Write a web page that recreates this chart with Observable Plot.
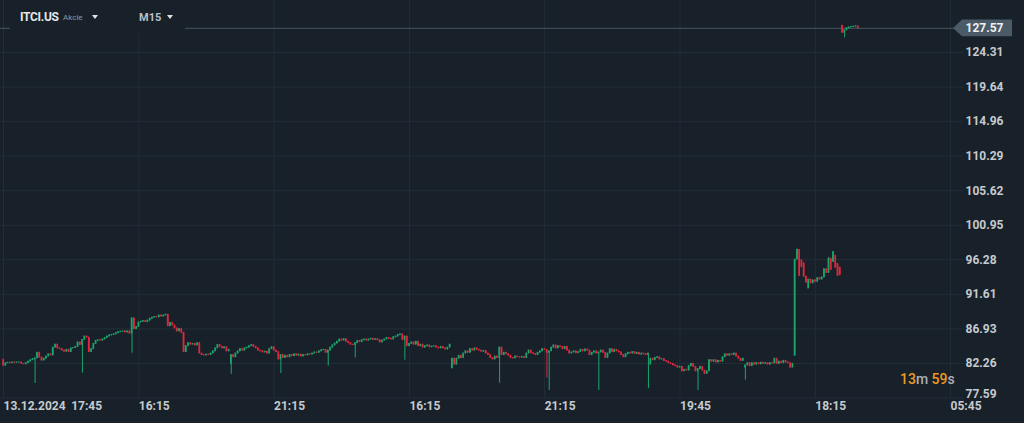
<!DOCTYPE html>
<html><head><meta charset="utf-8">
<script src="https://cdn.jsdelivr.net/npm/d3@7"></script>
<script src="https://cdn.jsdelivr.net/npm/@observablehq/plot@0.6"></script>
<style>
html,body{margin:0;padding:0;background:#18212a;width:1024px;height:423px;overflow:hidden;font-family:Roboto,"Noto Sans",sans-serif}
#wrap{position:relative;width:1024px;height:423px}
#wrap svg{display:block}
#hdr{position:absolute;left:10px;top:0;width:175px;height:33px;background:#18212a}
#hdr span{position:absolute}
.sym{left:10px;top:10px;font-size:12px;font-weight:700;color:#e4e7ea;letter-spacing:-0.3px}
.akc{left:53px;top:13px;font-size:8px;color:#8d979f}
.tf{left:129px;top:11px;font-size:11px;font-weight:700;color:#b9c0c5}
.tri{width:0;height:0;border-left:3.5px solid transparent;border-right:3.5px solid transparent;border-top:4px solid #dfe3e6}
#t1{left:82px;top:15px}
#t2{left:157px;top:15px}
#cd{position:absolute;left:900px;top:371px;font-size:14px;font-weight:500;white-space:nowrap}
#cd .o{color:#ee9a1e}
#cd .g{color:#a9b0b6}
</style>
</head><body>
<div id="wrap">
  <div id="chart"></div>
  <div id="hdr"><span class="sym">ITCI.US</span><span class="akc">Akcie</span><span class="tri" id="t1"></span><span class="tf">M15</span><span class="tri" id="t2"></span></div>
  <div id="cd"><span class="o">13</span><span class="g">m</span> <span class="o">59</span><span class="g">s</span></div>
</div>
<script>
// ---- data (M15 candles, closes) ----
const closes = [
81.95,82.3,82.35,82.3,82.4,82.35,82.4,82.4,82.2,82.15,
82.3,82.5,82.7,82.85,82.95,83.7,83.05,82.65,82.9,83.2,
83.5,83.35,84.4,84.8,84.3,84.2,84.0,83.85,84.1,83.8,
84.3,84.35,84.5,85.1,84.75,85.45,85.9,85.75,83.8,84.2,
84.9,85.3,85.4,85.35,85.5,85.7,85.9,86.05,86.1,86.2,
86.35,86.5,86.55,86.6,86.45,86.6,86.3,88.35,86.9,87.2,
87.8,87.9,88.0,87.85,88.05,88.3,88.45,88.55,88.5,88.75,
88.6,88.75,88.85,87.3,87.75,87.4,87.0,86.6,86.9,86.4,
83.8,84.6,85.0,84.8,84.9,84.7,85.0,83.6,83.4,83.35,
83.45,83.4,83.6,83.9,84.3,84.75,84.5,84.3,84.45,83.9,
84.1,83.4,83.1,83.6,83.9,84.2,84.0,84.3,84.4,84.6,
84.75,84.5,84.3,84.0,83.9,83.75,83.85,83.6,84.2,84.45,
84.0,83.8,82.8,83.4,83.0,83.3,83.1,83.4,83.25,83.5,
83.3,83.45,83.2,83.4,83.35,83.5,83.45,83.6,83.75,83.7,
83.9,84.05,84.1,83.7,84.0,84.4,84.7,84.95,85.2,85.5,
85.35,85.55,85.2,85.0,84.8,84.75,85.0,85.3,85.15,85.4,
85.5,85.35,85.5,85.6,85.45,85.55,85.4,85.1,85.35,85.5,
85.7,85.6,85.5,85.8,85.9,86.1,86.2,85.45,85.9,84.6,
84.9,85.1,84.8,85.2,84.6,84.8,84.4,84.6,84.7,84.45,
84.55,84.6,84.4,84.3,84.5,84.3,84.15,84.4,84.8,82.9,
82.1,82.9,83.3,83.0,83.6,83.9,83.7,84.2,84.0,84.3,
84.1,84.0,83.85,83.95,83.6,83.4,83.0,82.8,83.2,83.0,
84.4,83.4,83.7,83.5,83.3,83.0,82.95,83.2,83.1,83.05,
83.15,83.0,83.6,84.0,83.65,83.55,83.4,83.7,83.9,84.2,
84.1,83.7,83.9,84.4,84.7,84.3,84.6,84.5,84.2,84.5,
84.0,83.6,83.75,83.9,83.65,83.8,84.1,83.9,84.15,84.0,
83.4,83.7,83.9,83.6,83.75,84.0,83.7,83.0,83.6,84.2,
83.8,84.1,83.9,83.75,83.4,83.1,83.5,83.7,83.6,83.8,
83.55,83.7,83.45,83.6,83.5,83.4,83.6,82.9,82.7,83.0,
83.1,82.8,82.85,82.6,82.5,82.3,82.2,82.0,81.9,81.7,
81.8,81.2,81.4,81.3,81.9,82.2,81.8,81.2,81.5,81.8,
81.3,80.85,81.2,82.7,82.5,82.7,82.4,82.6,82.5,83.1,
83.5,83.3,83.5,83.4,83.6,83.2,82.9,82.6,82.9,82.0,
82.3,81.9,82.3,82.1,82.3,82.15,82.35,82.2,82.3,82.1,
82.3,82.25,82.9,82.2,82.5,82.3,82.6,82.4,82.3,81.7,
82.2,96.3,97.6,94.1,95.3,94.0,93.2,93.6,93.1,93.5,
93.3,93.8,93.6,93.9,95.0,94.5,96.4,94.9,97.3,95.2,
94.1,94.2,127.0,127.3,127.6,127.7,127.75,127.8,127.85,127.57
];
// opens that do not equal the previous close: [candle, open]
const gapOpens = [[0,82.76],[101,82.2],[199,81.6],[287,82.1],[329,81.7],[351,83.3],
  [354,96.2],[355,95.8],[357,92.4],[368,96.0],[369,96.8],[370,95.7],[371,95.2],[372,127.9]];
// long lower wicks: [candle, low]
const lowWicks = [[14,79.55],[35,80.95],[57,83.65],[101,80.8],[123,80.9],[144,81.9],[156,83.0],
  [178,82.7],[220,79.6],[241,80.3],[242,78.6],[264,78.6],[286,78.85],[308,78.6],[329,80.0],
  [372,126.9],[373,126.3]];
// upper wicks: [candle, high]
const highWicks = [[352,97.75],[366,96.6],[368,97.4],[372,128.0]];
const yTicks = [77.59,82.26,86.93,91.61,96.28,100.95,105.62,110.29,114.96,119.64,124.31];
const xTickIdx = [0,30,60,120,180,240,300,360,420];
const xTickLabels = ["13.12.2024","17:45","16:15","21:15","16:15","21:15","19:45","18:15","05:45"];
const gridIdx = [0,60,120,180,240,300,360,420];
const lastPrice = 127.57;

const green = "#1ba56c", red = "#e0283d";
const gapMap = new Map(gapOpens), lowMap = new Map(lowWicks), highMap = new Map(highWicks);
const candles = closes.map((c, i) => {
  const o = gapMap.has(i) ? gapMap.get(i) : closes[i - 1];
  const low = Math.min(o, c, lowMap.has(i) ? lowMap.get(i) : Infinity);
  const high = Math.max(o, c, highMap.has(i) ? highMap.get(i) : -Infinity);
  return {i, open: o, close: c, low, high, col: c >= o ? green : red};
});

const priceTag = (index, scales, values, dims) => {
  const y = scales.y(lastPrice);
  const x0 = dims.width - dims.marginRight - 10;
  const p = d3.create("svg:path")
    .attr("d", `M${x0},${y} L${x0 + 9},${y - 8.3} H${x0 + 59} V${y + 8.3} H${x0 + 9} Z`)
    .attr("fill", "#4a5a66");
  return p.node();
};

const chart = Plot.plot({
  width: 1024, height: 423,
  marginLeft: 0, marginRight: 61, marginTop: 0, marginBottom: 25,
  style: {background: "#18212a", color: "#c5cace", fontFamily: "Roboto, sans-serif", fontSize: "12px"},
  x: {type: "linear", domain: [0, 420], range: [3, 950.1], axis: null},
  y: {domain: [77.59, 124.31], range: [397.5, 52], axis: null},
  marks: [
    Plot.ruleY(yTicks, {stroke: "#232d37"}),
    Plot.ruleX(gridIdx, {stroke: "#232d37"}),
    Plot.ruleY([lastPrice], {stroke: "#3d4b56", strokeWidth: 1.2}),
    Plot.ruleX(candles, {x: "i", y1: "low", y2: "high", stroke: "col", strokeWidth: 1}),
    Plot.rect(candles, {x1: d => d.i - 0.34, x2: d => d.i + 0.34, y1: "open", y2: "close", fill: "col", insetTop: -0.5, insetBottom: -0.5}),
    priceTag,
    Plot.text([lastPrice], {y: d => d, text: d => d.toFixed(2), frameAnchor: "right", textAnchor: "start", dx: 2, fill: "#eef0f2", fontWeight: "bold", fontSize: 12}),
    Plot.text(yTicks.filter(d => d !== 77.59), {y: d => d, text: d => d.toFixed(2), frameAnchor: "right", textAnchor: "start", dx: 2, fill: "#c5cace", fontWeight: "bold", fontSize: 12}),
    Plot.text(yTicks.filter(d => d === 77.59), {y: d => d, text: d => d.toFixed(2), frameAnchor: "right", textAnchor: "start", dx: 2, dy: -4, fill: "#c5cace", fontWeight: "bold", fontSize: 12}),
    Plot.text(xTickIdx, {x: d => d, text: (d, k) => xTickLabels[k], frameAnchor: "bottom", textAnchor: "start", lineAnchor: "middle", dy: 8, fill: "#c5cace", fontWeight: "bold", fontSize: 12})
  ]
});
document.getElementById("chart").appendChild(chart);
</script>
</body></html>
